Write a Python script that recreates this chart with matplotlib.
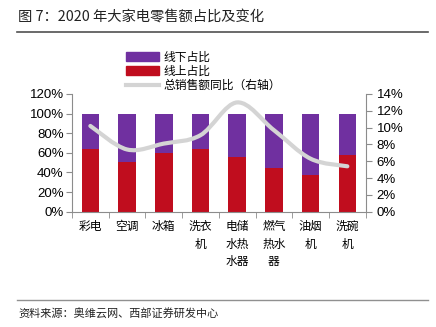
import matplotlib as mpl
mpl.use('Agg')
import matplotlib.pyplot as plt
from matplotlib.path import Path
from matplotlib.patches import PathPatch
from matplotlib.lines import Line2D
from matplotlib.patches import Patch

plt.rcParams['font.family'] = ['Noto Sans CJK SC', 'DejaVu Sans']

categories = ["彩电", "空调", "冰箱", "洗衣\n机", "电储\n水热\n水器", "燃气\n热水\n器", "油烟\n机", "洗碗\n机"]
online_share = [63.5, 50.5, 59.5, 64, 56, 45, 37, 57.5]      # 线上占比 %
offline_share = [100 - v for v in online_share]               # 线下占比 %
yoy_growth = [10.2, 7.4, 8.1, 9.1, 13.0, 9.7, 6.3, 5.4]       # 总销售额同比 %

purple = "#7030A0"
red = "#C00D1E"
gray_line = "#D4D4D4"
axis_gray = "#8C8C8C"
num_font = 'Liberation Sans'

fig = plt.figure(figsize=(4.36, 3.27), dpi=100)

# title and rules
fig.text(18/436, 1 - 17/327, "图 7：2020 年大家电零售额占比及变化", fontsize=10.3,
         va='center', ha='left', color='#222222')
fig.add_artist(Line2D([17/436, 428/436], [1 - 32/327, 1 - 32/327], color='#505050', lw=1.2))
fig.add_artist(Line2D([17/436, 428/436], [1 - 300/327, 1 - 300/327], color='#909090', lw=1.0))
fig.text(18/436, 1 - 314/327, "资料来源：奥维云网、西部证券研发中心", fontsize=8,
         va='center', ha='left', color='#222222')

ax = fig.add_axes([72/436, 1 - 211.7/327, (365.7 - 72)/436, 117.7/327])
x = list(range(len(categories)))
ax.bar(x, online_share, width=0.48, color=red, zorder=2)
ax.bar(x, offline_share, bottom=online_share, width=0.48, color=purple, zorder=2)
ax.set_xlim(-0.5, len(categories) - 0.5)
ax.set_ylim(0, 120)
ax.set_yticks(range(0, 121, 20))
ax.set_yticklabels([f"{v}%" for v in range(0, 121, 20)], fontsize=9.5, fontfamily=num_font)
ax.set_xticks(x)
ax.set_xticklabels(categories, fontsize=8.5, linespacing=1.45, va='top')
ax.tick_params(axis='x', length=0, pad=6)
ax.set_xticks([i + 0.5 for i in range(-1, len(categories))], minor=True)
ax.tick_params(axis='x', which='minor', length=4, color=axis_gray, direction='out')
ax.tick_params(axis='y', length=4, color=axis_gray, direction='out', pad=2)
for s in ['top', 'right']:
    ax.spines[s].set_visible(False)
for s in ['left', 'bottom']:
    ax.spines[s].set_color(axis_gray)

ax2 = ax.twinx()
ax2.set_ylim(0, 14)
ax2.set_yticks(range(0, 15, 2))
ax2.set_yticklabels([f"{v}%" for v in range(0, 15, 2)], fontsize=9.5, fontfamily=num_font)
ax2.tick_params(axis='y', length=4, color=axis_gray, direction='out', pad=4)
for s in ['top', 'left', 'bottom']:
    ax2.spines[s].set_visible(False)
ax2.spines['right'].set_color(axis_gray)

# smooth line drawn as cubic bezier through the data points
pts = list(zip(x, yoy_growth))
verts = [pts[0]]
codes = [Path.MOVETO]
t = 1 / 6
for i in range(len(pts) - 1):
    p0 = pts[i - 1] if i > 0 else pts[i]
    p1 = pts[i]
    p2 = pts[i + 1]
    p3 = pts[i + 2] if i + 2 < len(pts) else pts[i + 1]
    c1 = (p1[0] + (p2[0] - p0[0]) * t, p1[1] + (p2[1] - p0[1]) * t)
    c2 = (p2[0] - (p3[0] - p1[0]) * t, p2[1] - (p3[1] - p1[1]) * t)
    verts += [c1, c2, p2]
    codes += [Path.CURVE4] * 3
ax2.add_patch(PathPatch(Path(verts, codes), facecolor='none', edgecolor=gray_line,
                        lw=3, capstyle='round', zorder=3))

handles = [Patch(color=purple, label="线下占比"),
           Patch(color=red, label="线上占比"),
           Line2D([], [], color=gray_line, lw=3, label="总销售额同比（右轴）")]
fig.legend(handles=handles, loc='upper left', bbox_to_anchor=(120/436, 1 - 45/327),
           frameon=False, fontsize=8.5, handlelength=2.8, handleheight=0.8,
           labelspacing=0.1, borderpad=0, handletextpad=0.4)

fig.savefig("out.png", dpi=100)
